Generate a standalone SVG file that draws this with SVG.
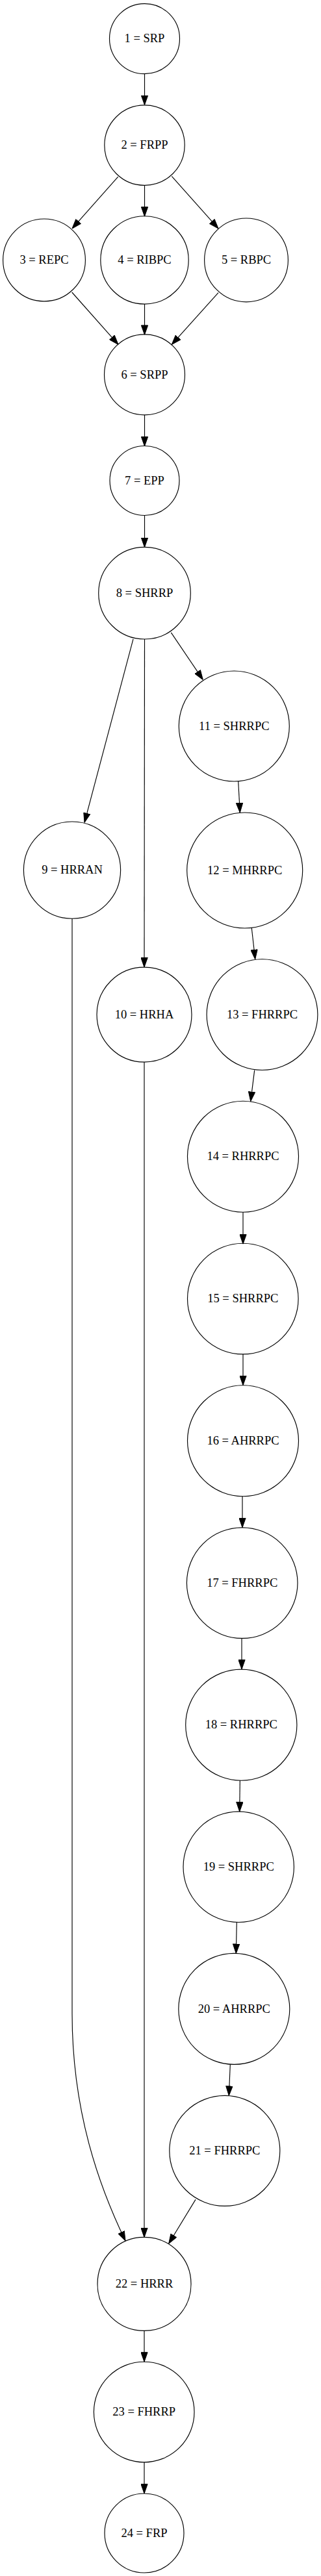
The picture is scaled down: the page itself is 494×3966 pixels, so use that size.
<svg xmlns="http://www.w3.org/2000/svg" width="494" height="3966" viewBox="0 0 494 3966">
<style>
.n circle{fill:none;stroke:#000;stroke-width:1.15}
.n text{font-family:"Liberation Serif","Times New Roman",serif;font-size:18.5px;text-anchor:middle;fill:#000}
#edges path{fill:none;stroke:#000;stroke-width:1.15;marker-end:url(#ah)}
</style>
<defs>
<marker id="ah" viewBox="0 0 15 11" refX="15" refY="5.5" markerWidth="15" markerHeight="11" markerUnits="userSpaceOnUse" orient="auto">
<path d="M0.5,0.4 L15,5.5 L0.5,10.6 z" fill="#000" stroke="#000" stroke-width="1"/>
</marker>
</defs>
<rect width="494" height="3966" fill="#fff"/>
<g id="edges">
<path d="M222.5,113.6 L222.5,161.6"/>
<path d="M181.7,272.1 L111,351.8"/>
<path d="M222.5,285.3 L222.5,333.2"/>
<path d="M264.3,271.4 L336,351.8"/>
<path d="M110.7,450 L182,530.4"/>
<path d="M222.5,468.1 L222.5,515.4"/>
<path d="M336,450.7 L264.3,530.4"/>
<path d="M222.5,638.8 L222.5,687"/>
<path d="M222.5,793.5 L222.5,842.6"/>
<path d="M263.3,973.9 L312.3,1046.4"/>
<path d="M205,983.9 L130,1266.4"/>
<path d="M222.5,984 L222,1489"/>
<path d="M111,1414.2 L111,3100 C111,3250 152,3365 193,3450"/>
<path d="M222,1635.2 L222,3444.6"/>
<path d="M366.7,1203 L369.3,1251"/>
<path d="M387.3,1429 L392.7,1476.8"/>
<path d="M391.7,1647.6 L385.7,1695.6"/>
<path d="M374,1866.2 L374,1915.2"/>
<path d="M374,2085 L374,2132.8"/>
<path d="M373,2303.7 L373,2351.8"/>
<path d="M372,2522.4 L372,2570"/>
<path d="M369.3,2741.3 L368.7,2789.1"/>
<path d="M364.3,2959.5 L363.3,3007.5"/>
<path d="M354.3,3178.4 L352.3,3226.4"/>
<path d="M301,3386.4 L259.7,3454.3"/>
<path d="M222,3588.4 L222,3636.2"/>
<path d="M222,3790.8 L222,3839"/>
</g>
<g id="node1" class="n"><circle cx="222.5" cy="59.6" r="54"/><text x="222.5" y="65.3">1 = SRP</text></g>
<g id="node2" class="n"><circle cx="222.5" cy="223.6" r="61.7"/><text x="222.5" y="229.3">2 = FRPP</text></g>
<g id="node3" class="n"><circle cx="68" cy="400.4" r="63.4"/><text x="68" y="406.1">3 = REPC</text></g>
<g id="node4" class="n"><circle cx="222.5" cy="400.4" r="67.7"/><text x="222.5" y="406.1">4 = RIBPC</text></g>
<g id="node5" class="n"><circle cx="379" cy="400.4" r="64.4"/><text x="379" y="406.1">5 = RBPC</text></g>
<g id="node6" class="n"><circle cx="222.5" cy="576.8" r="62"/><text x="222.5" y="582.5">6 = SRPP</text></g>
<g id="node7" class="n"><circle cx="222.5" cy="740" r="53.5"/><text x="222.5" y="745.7">7 = EPP</text></g>
<g id="node8" class="n"><circle cx="222.5" cy="913.2" r="70.8"/><text x="222.5" y="918.9">8 = SHRRP</text></g>
<g id="node9" class="n"><circle cx="111" cy="1339.6" r="74.6"/><text x="111" y="1345.3">9 = HRRAN</text></g>
<g id="node10" class="n"><circle cx="222" cy="1562.1" r="73"/><text x="222" y="1567.8">10 = HRHA</text></g>
<g id="node11" class="n"><circle cx="360.3" cy="1118" r="85"/><text x="360.3" y="1123.7">11 = SHRRPC</text></g>
<g id="node12" class="n"><circle cx="376.7" cy="1340" r="89"/><text x="376.7" y="1345.7">12 = MHRRPC</text></g>
<g id="node13" class="n"><circle cx="403.5" cy="1562.1" r="85.4"/><text x="403.5" y="1567.8">13 = FHRRPC</text></g>
<g id="node14" class="n"><circle cx="374" cy="1780.7" r="85.5"/><text x="374" y="1786.4">14 = RHRRPC</text></g>
<g id="node15" class="n"><circle cx="373.8" cy="1999.6" r="85.3"/><text x="373.8" y="2005.3">15 = SHRRPC</text></g>
<g id="node16" class="n"><circle cx="374" cy="2218.2" r="85.5"/><text x="374" y="2223.9">16 = AHRRPC</text></g>
<g id="node17" class="n"><circle cx="372.7" cy="2437.1" r="85.3"/><text x="372.7" y="2442.8">17 = FHRRPC</text></g>
<g id="node18" class="n"><circle cx="371.3" cy="2655.7" r="85.6"/><text x="371.3" y="2661.4">18 = RHRRPC</text></g>
<g id="node19" class="n"><circle cx="367.2" cy="2874.3" r="85.2"/><text x="367.2" y="2880">19 = SHRRPC</text></g>
<g id="node20" class="n"><circle cx="360.3" cy="3092.9" r="85.5"/><text x="360.3" y="3098.6">20 = AHRRPC</text></g>
<g id="node21" class="n"><circle cx="345.8" cy="3311.4" r="85"/><text x="345.8" y="3317.1">21 = FHRRPC</text></g>
<g id="node22" class="n"><circle cx="222" cy="3516.4" r="72"/><text x="222" y="3522.1">22 = HRRR</text></g>
<g id="node23" class="n"><circle cx="221.7" cy="3713.5" r="77.3"/><text x="221.7" y="3719.2">23 = FHRRP</text></g>
<g id="node24" class="n"><circle cx="222" cy="3900" r="61"/><text x="222" y="3905.7">24 = FRP</text></g>
</svg>
